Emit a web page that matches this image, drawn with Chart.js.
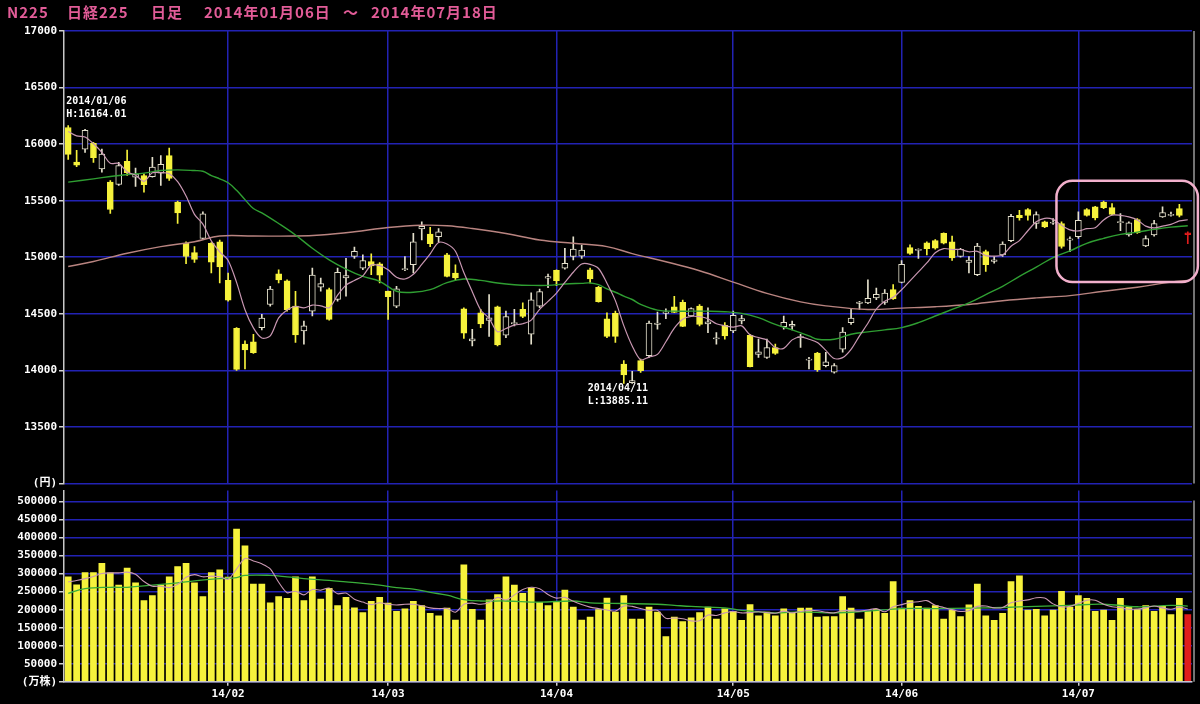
<!DOCTYPE html>
<html lang="ja">
<head>
<meta charset="UTF-8" />
<title>N225 日経225 日足</title>
<script src="https://cdn.jsdelivr.net/npm/chart.js"></script>
<style>
    html, body { margin: 0; padding: 0; background: #000; }
    body { width: 1200px; height: 704px; position: relative; overflow: hidden; }
    canvas { position: absolute; left: 0; }
    #price { top: 0; }
    #volume { top: 482px; }
</style>
</head>
<body>
<canvas id="price" width="1200" height="492"></canvas>
<canvas id="volume" width="1200" height="222"></canvas>
<script>
// trading days 2014/01/06 - 2014/07/18
const dates = [
    "01/06","01/07","01/08","01/09","01/10","01/14","01/15","01/16","01/17","01/20","01/21","01/22","01/23","01/24","01/27","01/28","01/29","01/30","01/31",
    "02/03","02/04","02/05","02/06","02/07","02/10","02/12","02/13","02/14","02/17","02/18","02/19","02/20","02/21","02/24","02/25","02/26","02/27","02/28",
    "03/03","03/04","03/05","03/06","03/07","03/10","03/11","03/12","03/13","03/14","03/17","03/18","03/19","03/20","03/24","03/25","03/26","03/27","03/28","03/31",
    "04/01","04/02","04/03","04/04","04/07","04/08","04/09","04/10","04/11","04/14","04/15","04/16","04/17","04/18","04/21","04/22","04/23","04/24","04/25","04/28","04/30",
    "05/01","05/02","05/07","05/08","05/09","05/12","05/13","05/14","05/15","05/16","05/19","05/20","05/21","05/22","05/23","05/26","05/27","05/28","05/29","05/30",
    "06/02","06/03","06/04","06/05","06/06","06/09","06/10","06/11","06/12","06/13","06/16","06/17","06/18","06/19","06/20","06/23","06/24","06/25","06/26","06/27","06/30",
    "07/01","07/02","07/03","07/04","07/07","07/08","07/09","07/10","07/11","07/14","07/15","07/16","07/17","07/18"
];

const open = [
    16147,15840,15956,16006,15781,15664,15643,15848,15708,15722,15713,15743,15898,15488,15123,15041,15167,15123,15137,
    14795,14371,14231,14251,14377,14582,14854,14792,14567,14348,14523,14735,14713,14626,14816,15006,14903,14962,14942,
    14700,14567,14890,14933,15250,15205,15181,15020,14860,14544,14260,14509,14440,14561,14310,14410,14538,14319,14567,14815,
    14883,14903,15006,15010,14889,14734,14456,14503,14056,13890,14085,14129,14405,14503,14561,14602,14480,14567,14410,14278,14398,
    14348,14436,14310,14140,14114,14200,14386,14390,14290,14090,14152,14040,13983,14187,14421,14592,14596,14640,14600,14713,
    14778,15085,15060,15128,15146,15210,15137,15006,14953,14845,15050,14962,15020,15146,15371,15421,15298,15313,15300,15298,15150,
    15181,15421,15445,15488,15438,15305,15196,15333,15100,15196,15357,15370,15430,15200
];
const high = [
    16164,15945,16131,16015,15956,15678,15839,15947,15789,15737,15883,15898,15965,15497,15137,15094,15401,15130,15152,
    14860,14377,14260,14319,14494,14743,14889,14801,14699,14436,14903,14816,14728,14903,14991,15090,15020,15029,14953,
    14700,14743,15006,15210,15312,15263,15254,15035,14933,14553,14363,14538,14670,14567,14523,14538,14596,14684,14719,14850,
    14889,15079,15181,15108,14903,14743,14509,14523,14085,13990,14100,14436,14515,14544,14655,14620,14553,14582,14553,14333,14421,
    14523,14486,14319,14275,14275,14231,14480,14436,14319,14114,14158,14158,14060,14377,14538,14610,14801,14728,14713,14757,
    14971,15110,15075,15137,15155,15216,15187,15079,15006,15123,15064,15006,15137,15380,15415,15430,15401,15320,15342,15313,15181,
    15401,15430,15450,15497,15474,15386,15313,15342,15190,15327,15445,15400,15468,15225
];
const low = [
    15864,15800,15927,15839,15751,15386,15635,15722,15626,15576,15708,15635,15678,15298,14942,14953,15158,14860,14772,
    14611,14000,14012,14150,14357,14567,14772,14523,14246,14231,14480,14699,14444,14611,14655,14990,14889,14845,14772,
    14450,14553,14880,14860,15152,15094,15137,14825,14795,14281,14216,14377,14300,14216,14289,14392,14465,14231,14553,14730,
    14749,14895,14977,14990,14772,14602,14289,14246,13885,13885,13982,14114,14363,14456,14509,14385,14474,14392,14333,14231,14275,
    14333,14410,14030,14114,14105,14140,14363,14357,14202,14012,13990,14030,13975,14160,14406,14538,14590,14625,14582,14626,
    14772,15025,14990,15020,15070,15117,14971,15000,14860,14836,14874,14947,15006,15137,15327,15327,15254,15260,15290,15080,15050,
    15167,15362,15330,15430,15375,15234,15187,15210,15094,15187,15351,15362,15357,15120
];
const close = [
    15909,15814,16121,15880,15912,15422,15809,15747,15734,15642,15796,15821,15696,15392,15006,14980,15384,14957,14915,
    14619,14008,14180,14155,14462,14718,14800,14535,14313,14393,14843,14766,14450,14866,14838,15052,14971,14923,14841,
    14652,14721,14898,15135,15274,15120,15224,14830,14816,14328,14278,14411,14463,14224,14475,14423,14477,14623,14696,14828,
    14792,14946,15072,15064,14809,14607,14300,14300,13960,13910,13997,14418,14418,14516,14512,14389,14546,14405,14429,14288,14304,
    14485,14458,14033,14163,14200,14150,14425,14406,14298,14097,14006,14075,14042,14338,14462,14603,14637,14671,14682,14632,
    14936,15034,15069,15075,15079,15124,14994,15069,14974,15098,14933,14976,15116,15361,15349,15369,15376,15267,15308,15095,15162,
    15326,15370,15348,15437,15379,15315,15303,15216,15164,15297,15395,15379,15370,15215
];

// short moving average (pink), one value per day
const ma5 = [
    16112,16073,16063,16003,15927,15830,15829,15754,15725,15671,15746,15748,15738,15669,15542,15379,15292,15144,15048,
    14971,14777,14536,14375,14285,14305,14463,14534,14566,14552,14577,14570,14553,14664,14753,14794,14835,14930,14925,
    14888,14822,14807,14849,14936,15030,15130,15117,15053,14864,14695,14533,14459,14341,14370,14399,14412,14444,14539,14609,
    14683,14777,14867,14940,14937,14900,14770,14616,14395,14215,14093,14117,14141,14252,14372,14451,14476,14474,14456,14411,14394,
    14382,14393,14314,14289,14268,14201,14194,14269,14296,14275,14246,14176,14104,14112,14185,14304,14416,14542,14611,14645,
    14712,14791,14871,14949,15039,15076,15068,15068,15048,15052,15014,15010,15019,15097,15147,15234,15314,15344,15334,15283,15242,
    15232,15252,15260,15329,15372,15370,15356,15330,15275,15259,15275,15290,15321,15331
];
// green moving average, read at these days
const ma25Idx = [0,3,5,7,9,11,13,15,16,17,18,19,20,21,22,23,25,27,29,31,33,35,37,39,41,43,45,47,49,51,53,55,57,59,61,62,63,64,65,66,67,68,70,72,74,76,78,80,82,84,86,88,89,91,93,95,97,99,101,103,105,107,109,111,113,115,117,119,121,123,125,127,129,131,133];
const ma25Val = [15664,15693,15713,15731,15743,15766,15772,15766,15760,15722,15693,15658,15591,15509,15430,15392,15298,15196,15079,14977,14895,14830,14787,14699,14690,14713,14775,14807,14795,14772,14757,14751,14751,14763,14769,14772,14757,14719,14690,14655,14626,14582,14532,14523,14523,14523,14518,14503,14465,14406,14357,14304,14275,14275,14319,14340,14357,14377,14421,14480,14538,14596,14670,14743,14830,14912,14997,15056,15123,15167,15202,15222,15246,15266,15278];
// long moving average (brown), read at these days
const ma75Idx = [0,3,7,11,15,18,22,27,30,34,38,42,45,48,52,56,60,64,67,71,75,79,83,87,90,95,99,103,107,111,115,119,123,127,131,133];
const ma75Val = [14918,14962,15035,15094,15137,15187,15187,15187,15196,15225,15263,15283,15278,15254,15210,15152,15123,15094,15032,14960,14880,14780,14680,14605,14570,14538,14550,14562,14582,14615,14640,14660,14699,14734,14780,14795];

const volume = [
    292000,270000,304000,304000,329000,303000,269000,316000,275000,226000,240000,270000,292000,320000,329000,275000,237000,304000,311000,
    291000,424000,378000,272000,272000,220000,237000,232000,292000,226000,292000,230000,260000,212000,235000,206000,193000,224000,235000,
    219000,196000,203000,224000,212000,191000,184000,205000,172000,325000,202000,172000,228000,243000,292000,269000,246000,261000,221000,212000,
    221000,255000,208000,172000,180000,201000,233000,194000,240000,175000,175000,208000,194000,126000,180000,168000,178000,193000,208000,175000,203000,
    196000,171000,215000,184000,194000,184000,203000,191000,205000,205000,180000,182000,182000,237000,205000,175000,196000,201000,191000,279000,
    205000,226000,210000,205000,212000,175000,200000,182000,214000,272000,184000,171000,191000,279000,295000,200000,202000,184000,200000,252000,208000,
    240000,232000,196000,200000,171000,232000,208000,201000,212000,196000,210000,187000,232000,187000
];
const volMa5 = [
    277000,281000,286000,292000,300000,302000,302000,304000,298000,278000,265000,265000,261000,270000,290000,297000,291000,293000,291000,
    284000,313000,342000,335000,327000,313000,276000,247000,251000,241000,256000,254000,260000,244000,246000,229000,221000,214000,219000,
    215000,213000,215000,215000,211000,205000,203000,203000,193000,215000,218000,215000,220000,234000,227000,241000,256000,262000,258000,242000,
    232000,234000,223000,214000,207000,203000,199000,196000,210000,209000,203000,198000,198000,176000,177000,175000,169000,169000,185000,184000,191000,
    195000,191000,192000,194000,192000,190000,196000,191000,195000,198000,197000,193000,191000,197000,197000,196000,199000,203000,194000,208000,
    214000,220000,222000,225000,212000,206000,200000,195000,197000,209000,210000,205000,206000,219000,224000,227000,233000,232000,216000,208000,209000,
    217000,226000,226000,215000,208000,206000,201000,202000,205000,210000,205000,201000,207000,202000
];
const volMa25Idx = [0,2,5,7,9,11,13,15,18,20,21,24,26,28,31,33,35,37,39,41,43,45,47,49,52,56,60,62,66,70,72,74,76,78,80,82,84,87,91,95,99,103,107,111,115,119,123,127,131,133];
const volMa25Val = [245000,258000,262000,262000,266000,270000,274000,280000,286000,289000,295000,295000,291000,286000,281000,277000,273000,268000,261000,257000,248000,240000,228000,224000,224000,221000,224000,219000,217000,215000,212000,209000,207000,205000,198000,194000,191000,194000,191000,196000,203000,203000,204000,206000,209000,212000,215000,208000,212000,210000];

const priceTicks = { min: 13000, max: 17000, step: 500 };
const volTickValues = [0, 50000, 100000, 150000, 200000, 250000, 300000, 350000, 400000, 450000, 500000];

// ---- helpers
const YELLOW = "#f6f23c";
const UPLINE = "#e4e0cc";
const RED = "#e01c1c";
const BLUE = "#2222b4";
const TICKFONT = { family: "'DejaVu Sans Mono', 'Noto Sans CJK JP', monospace", size: 11, weight: "bold" };
const last = dates.length - 1;

function isMonthStart(i) {
    return i > 0 && dates[i].slice(0, 2) !== dates[i - 1].slice(0, 2);
}
function fill(idx, val) {
    const a = dates.map(() => null);
    idx.forEach((k, j) => { a[k] = val[j]; });
    return a;
}
function candleColor(i, upColor) {
    if (i === last) return RED;
    return close[i] >= open[i] ? upColor : YELLOW;
}

const bodies = open.map((o, i) => [o, close[i]]);
const wicks = low.map((l, i) => [l, high[i]]);

const monthGrid = (ctx) => (isMonthStart(ctx.index) ? BLUE : "transparent");

// ---- overlay: title, high/low notes, highlight box, right border
const overlay = {
    id: "overlay",
    afterDraw(chart) {
        const c = chart.ctx;
        const xs = chart.scales.x, ys = chart.scales.y;
        const area = chart.chartArea;
        c.save();
        // right border
        c.strokeStyle = "#9a9a9a";
        c.lineWidth = 1.5;
        c.beginPath();
        c.moveTo(area.right + 2, area.top);
        c.lineTo(area.right + 2, area.bottom);
        c.stroke();

        // title
        c.fillStyle = "#e25c98";
        c.font = "bold 15px 'Noto Sans CJK JP'";
        c.textBaseline = "middle";
        c.letterSpacing = "1px";
        [["N225", 7], ["日経225", 67], ["日足", 151], ["2014年01月06日", 204], ["～", 343], ["2014年07月18日", 371]]
            .forEach(([t, x]) => c.fillText(t, x, 12));
        c.letterSpacing = "0px";

        // high / low notes
        c.fillStyle = "#ffffff";
        c.font = "bold 10px 'DejaVu Sans Mono'";
        const hi = Math.max(...high), hiI = high.indexOf(hi);
        const lo = Math.min(...low), loI = low.indexOf(lo);
        const hx = xs.getPixelForValue(hiI) - 2, hy = ys.getPixelForValue(hi);
        c.fillText("2014/" + dates[hiI], hx, hy - 24);
        c.fillText("H:16164.01", hx, hy - 11);
        const lx = xs.getPixelForValue(loI) - 36, ly = ys.getPixelForValue(lo);
        c.fillText("2014/" + dates[loI], lx, ly + 5);
        c.fillText("L:13885.11", lx, ly + 18);

        // highlight box
        const bx0 = xs.getPixelForValue(117.4), bx1 = xs.getPixelForValue(134.2);
        const by0 = ys.getPixelForValue(15675), by1 = ys.getPixelForValue(14780);
        c.strokeStyle = "#f2b0cc";
        c.lineWidth = 2.5;
        c.beginPath();
        c.roundRect(bx0, by0, bx1 - bx0, by1 - by0, 16);
        c.stroke();
        c.restore();
    }
};

const rightBorder = {
    id: "rightBorder",
    afterDraw(chart) {
        const c = chart.ctx, area = chart.chartArea;
        c.save();
        c.strokeStyle = "#9a9a9a";
        c.lineWidth = 1.5;
        c.beginPath();
        c.moveTo(area.right + 2, area.top + 10);
        c.lineTo(area.right + 2, area.bottom);
        c.stroke();
        c.restore();
    }
};

Chart.defaults.color = "#ffffff";

// ---- price chart
new Chart(document.getElementById("price"), {
    type: "bar",
    data: {
        labels: dates,
        datasets: [
            { type: "line", data: ma5, borderColor: "#c997b2", borderWidth: 1.2, pointRadius: 0, tension: 0.3, order: 1 },
            { type: "line", data: fill(ma25Idx, ma25Val), spanGaps: true, borderColor: "#2f9e32", borderWidth: 1.4, pointRadius: 0, tension: 0.4, order: 1 },
            { type: "line", data: fill(ma75Idx, ma75Val), spanGaps: true, borderColor: "#b98480", borderWidth: 1.4, pointRadius: 0, tension: 0.4, order: 1 },
            {
                data: bodies, order: 2, grouped: false, barThickness: 6, minBarLength: 1,
                borderSkipped: false, borderWidth: 1,
                backgroundColor: (ctx) => candleColor(ctx.dataIndex, "#000000"),
                borderColor: (ctx) => candleColor(ctx.dataIndex, UPLINE)
            },
            {
                data: wicks, order: 3, grouped: false, barThickness: 1,
                backgroundColor: (ctx) => candleColor(ctx.dataIndex, UPLINE)
            }
        ]
    },
    options: {
        responsive: false,
        animation: false,
        events: [],
        devicePixelRatio: 1,
        layout: { padding: { left: 6, right: 8, top: 31, bottom: 3 } },
        plugins: { legend: { display: false }, tooltip: { enabled: false } },
        scales: {
            x: {
                grid: { offset: false, color: monthGrid, lineWidth: 1.5, drawTicks: false },
                ticks: { display: false },
                border: { display: false }
            },
            y: {
                min: priceTicks.min, max: priceTicks.max,
                afterFit: (s) => { s.width = 58; },
                ticks: {
                    stepSize: priceTicks.step, color: "#ffffff", font: TICKFONT, padding: 2,
                    callback: (v) => (v === priceTicks.min ? "(円)" : v)
                },
                grid: { color: BLUE, lineWidth: 1.5, tickColor: "#d0d0d0", tickLength: 5 },
                border: { color: "#c8c8c8", width: 1.5 }
            }
        }
    },
    plugins: [overlay]
});

// ---- volume chart
new Chart(document.getElementById("volume"), {
    type: "bar",
    data: {
        labels: dates,
        datasets: [
            { type: "line", data: volMa5, borderColor: "#c997b2", borderWidth: 1.1, pointRadius: 0, tension: 0.3, order: 1 },
            { type: "line", data: fill(volMa25Idx, volMa25Val), spanGaps: true, borderColor: "#3aae3a", borderWidth: 1.3, pointRadius: 0, tension: 0.4, order: 1 },
            {
                data: volume, order: 2, barPercentage: 0.8, categoryPercentage: 1,
                backgroundColor: (ctx) => (ctx.dataIndex === last ? RED : YELLOW)
            }
        ]
    },
    options: {
        responsive: false,
        animation: false,
        events: [],
        devicePixelRatio: 1,
        layout: { padding: { left: 6, right: 8, top: 8, bottom: 1 } },
        plugins: { legend: { display: false }, tooltip: { enabled: false } },
        scales: {
            x: {
                grid: {
                    offset: false, color: monthGrid, lineWidth: 1.5, tickLength: 4,
                    tickColor: (ctx) => (isMonthStart(ctx.index) ? "#d0d0d0" : "transparent")
                },
                ticks: {
                    autoSkip: false, maxRotation: 0, color: "#ffffff", font: TICKFONT, padding: 2,
                    callback: (v, i) => (isMonthStart(i) ? "14/" + dates[i].slice(0, 2) : "")
                },
                border: { color: "#c8c8c8", width: 1.5 }
            },
            y: {
                min: 0, max: 530000,
                afterFit: (s) => { s.width = 58; },
                afterBuildTicks: (s) => { s.ticks = volTickValues.map((v) => ({ value: v })); },
                ticks: {
                    color: "#ffffff", font: TICKFONT, padding: 2,
                    callback: (v) => (v === 0 ? "(万株)" : v)
                },
                grid: { color: BLUE, lineWidth: 1.5, tickColor: "#d0d0d0", tickLength: 5 },
                border: { color: "#c8c8c8", width: 1.5 }
            }
        }
    },
    plugins: [rightBorder]
});
</script>
</body>
</html>
